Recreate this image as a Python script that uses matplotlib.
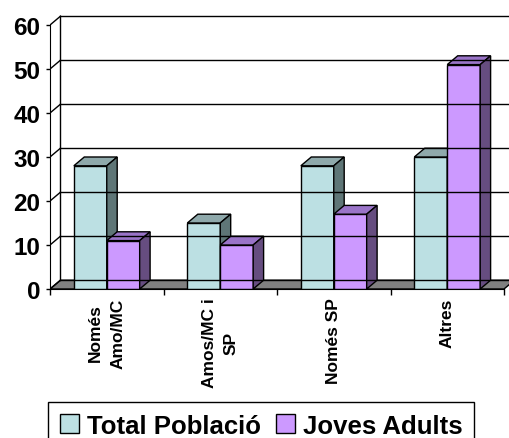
import matplotlib.pyplot as plt
from matplotlib.patches import Polygon, Rectangle, Patch

plt.rcParams['font.family'] = ['Liberation Sans', 'DejaVu Sans']
plt.rcParams['font.weight'] = 'bold'

categories = ["Només\nAmo/MC", "Amos/MC i\nSP", "Només SP", "Altres"]
series_names = ["Total Població", "Joves Adults"]
total_poblacio = [28, 15, 28, 30]
joves_adults = [11, 10, 17, 51]
yticks = [0, 10, 20, 30, 40, 50, 60]

face = ["#BCE0E3", "#CC99FF"]
top = ["#8FA9AB", "#9A74C8"]
side = ["#5F7677", "#664D80"]

# depth offset of the 3d look, in data units
dx, dy = 0.092, 2.0
bw = 0.29

fig = plt.figure(figsize=(5.09, 4.39), dpi=100)
ax = fig.add_axes([50 / 509, 149 / 439, 459 / 509, 280 / 439])
ax.set_xlim(0, 459 / 113.5)
ax.set_ylim(0, 280 / 4.4)

n = len(categories)
lk = dict(edgecolor="black", linewidth=1, joinstyle="miter")

# floor
ax.add_patch(Polygon([(0, 0), (n, 0), (n + dx, dy), (dx, dy)],
                     facecolor="#808080", **lk))
# side wall diagonals and back wall gridlines
for v in yticks:
    ax.plot([0, dx], [v, v + dy], color="black", lw=1)
    ax.plot([dx, 5], [v + dy, v + dy], color="black", lw=1)
ax.plot([dx, dx], [dy, yticks[-1] + dy], color="black", lw=1)


def bar3d(x0, h, i):
    ax.add_patch(Rectangle((x0, 0), bw, h, facecolor=face[i], **lk))
    ax.add_patch(Polygon([(x0, h), (x0 + bw, h), (x0 + bw + dx, h + dy),
                          (x0 + dx, h + dy)], facecolor=top[i], **lk))
    ax.add_patch(Polygon([(x0 + bw, 0), (x0 + bw + dx, dy),
                          (x0 + bw + dx, h + dy), (x0 + bw, h)],
                         facecolor=side[i], **lk))


for k in range(n):
    c = k + 0.5
    bar3d(c - bw, total_poblacio[k], 0)
    bar3d(c, joves_adults[k], 1)

for s in ["top", "right"]:
    ax.spines[s].set_visible(False)
ax.spines["left"].set_bounds(0, 60)
ax.spines["bottom"].set_bounds(0, n)
ax.spines["left"].set_zorder(5)
ax.spines["bottom"].set_zorder(5)

ax.set_yticks(yticks)
ax.set_yticklabels([str(v) for v in yticks], fontsize=17.5, fontweight="bold")
ax.tick_params(axis="y", length=3, width=1, pad=4)
ax.set_xticks(range(n + 1))
ax.set_xticklabels([])
ax.set_xticks([k + 0.5 for k in range(n)], minor=True)
ax.set_xticklabels(categories, minor=True, rotation=90, fontsize=12.5,
                   fontweight="bold", va="top", ha="center",
                   multialignment="center", linespacing=1.6)
ax.tick_params(axis="x", which="major", length=4, width=1)
ax.tick_params(axis="x", which="minor", length=0, pad=6)

handles = [Patch(facecolor=face[i], edgecolor="black", linewidth=1)
           for i in range(2)]
leg = fig.legend(handles, series_names, loc="upper left",
                 bbox_to_anchor=(48 / 509, 1 - 403 / 439),
                 ncol=2, prop={"weight": "bold", "size": 18.5},
                 handlelength=0.75, handleheight=0.75, handletextpad=0.3,
                 columnspacing=0.6, borderpad=0.45, borderaxespad=0,
                 fancybox=False, framealpha=1)
leg.get_frame().set_edgecolor("black")
leg.get_frame().set_linewidth(1)

fig.savefig("out.png", dpi=100)
